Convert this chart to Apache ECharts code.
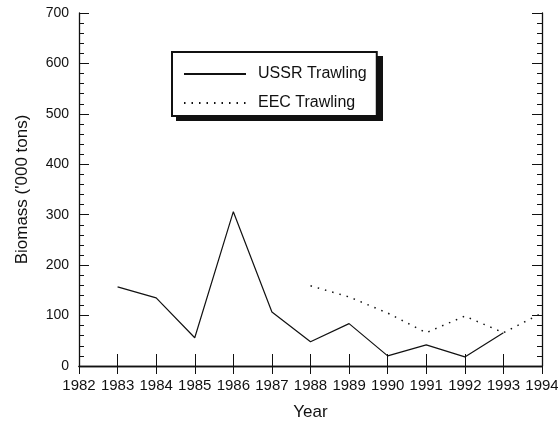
<!DOCTYPE html>
<html>
<head>
<meta charset="utf-8">
<script src="https://cdn.jsdelivr.net/npm/echarts@6/dist/echarts.min.js"></script>
<style>
  html, body { margin: 0; padding: 0; background: #fff; }
  #chart { width: 558px; height: 422px; }
</style>
</head>
<body>
<div id="chart"></div>
<script>
// biomass, '000 tons
var ussrYears = [1983, 1984, 1985, 1986, 1987, 1988, 1989, 1990, 1991, 1992, 1993];
var ussrBiomass = [157, 135, 56, 306, 107, 48, 84, 20, 42, 18, 66];
var eecYears = [1988, 1989, 1990, 1991, 1992, 1993, 1994];
var eecBiomass = [159, 137, 105, 66, 99, 66, 105];

function pairs(xs, ys) {
  return xs.map(function (x, i) { return [x, ys[i]]; });
}

var font = 'Liberation Sans, Arial, sans-serif';
var black = '#111';

var chart = echarts.init(document.getElementById('chart'));
chart.setOption({
  animation: false,
  textStyle: { fontFamily: font },
  grid: { left: 79, right: 16, top: 13, bottom: 56, outerBoundsMode: 'none', containLabel: false },
  // drop shadow of the legend box
  graphic: [{
    type: 'rect', z: 0,
    shape: { x: 176, y: 56, width: 207, height: 65 },
    style: { fill: black }
  }],
  legend: {
    orient: 'vertical',
    left: 172, top: 52,
    z: 5,
    padding: [14, 10, 5, 11],
    itemGap: 13,
    itemWidth: 62, itemHeight: 14,
    backgroundColor: '#fff',
    borderColor: black, borderWidth: 2, borderRadius: 0,
    itemStyle: { opacity: 0 },
    textStyle: { fontSize: 16, color: black, fontFamily: font, padding: [0, 0, 0, 7] },
    data: ['USSR Trawling', 'EEC Trawling']
  },
  xAxis: [{
    type: 'value', min: 1982, max: 1994, interval: 1,
    name: 'Year', nameLocation: 'middle', nameGap: 38,
    nameTextStyle: { fontSize: 17, color: black },
    axisLine: { lineStyle: { color: black, width: 1.3 } },
    axisTick: { inside: true, length: 12, lineStyle: { color: black } },
    axisLabel: { color: black, fontSize: 15, margin: 12, formatter: function (v) { return String(v); } },
    splitLine: { show: false }
  }, {
    type: 'value', min: 1982, max: 1994, interval: 1, position: 'top',
    axisLine: { lineStyle: { color: black, width: 1.3 } },
    axisTick: { inside: true, length: 8, lineStyle: { color: black } },
    axisLabel: { show: false },
    splitLine: { show: false }
  }],
  yAxis: [{
    type: 'value', min: 0, max: 700, interval: 100,
    name: "Biomass ('000 tons)", nameLocation: 'middle', nameGap: 48,
    nameTextStyle: { fontSize: 17, color: black },
    axisLine: { show: true, lineStyle: { color: black, width: 1.3 } },
    axisTick: { show: true, inside: true, length: 10, lineStyle: { color: black } },
    minorTick: { show: true, splitNumber: 5, length: 5, lineStyle: { color: black } },
    axisLabel: { color: black, fontSize: 14, margin: 10 },
    splitLine: { show: false }
  }, {
    type: 'value', min: 0, max: 700, interval: 100, position: 'right',
    axisLine: { show: true, lineStyle: { color: black, width: 1.3 } },
    axisTick: { show: true, inside: true, length: 10, lineStyle: { color: black } },
    minorTick: { show: true, splitNumber: 5, length: 5, lineStyle: { color: black } },
    axisLabel: { show: false },
    splitLine: { show: false }
  }],
  series: [{
    name: 'USSR Trawling',
    type: 'line',
    data: pairs(ussrYears, ussrBiomass),
    symbol: 'none',
    color: black,
    lineStyle: { color: black, width: 1.2 }
  }, {
    name: 'EEC Trawling',
    type: 'line',
    data: pairs(eecYears, eecBiomass),
    symbol: 'none',
    color: black,
    lineStyle: { color: black, width: 1.5, type: [1.5, 6] }
  }]
});
</script>
</body>
</html>
